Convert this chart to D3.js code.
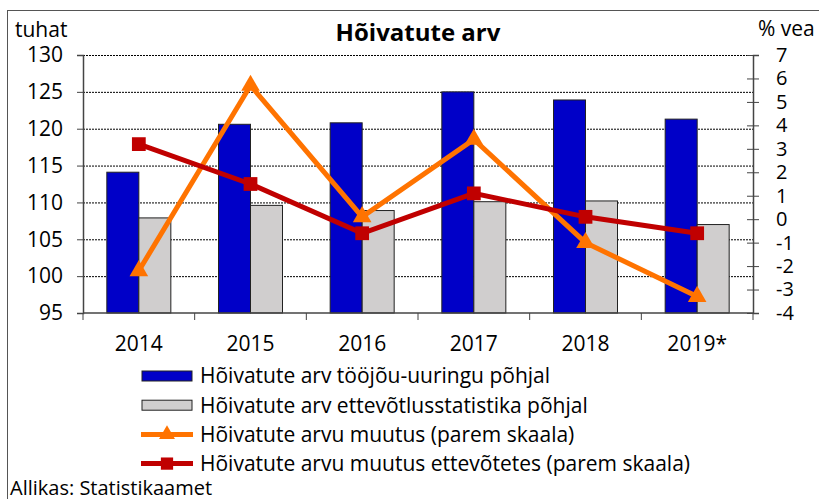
<!DOCTYPE html>
<html>
<head>
<meta charset="utf-8">
<script src="https://cdn.jsdelivr.net/npm/d3@7"></script>
<style>
  body { margin: 0; background: #fff; }
  svg { font-family: "Open Sans", sans-serif; }
</style>
</head>
<body>
<div id="chart"></div>
<script>
const width = 819;
const height = 499;

const years = ["2014", "2015", "2016", "2017", "2018", "2019*"];
const surveyEmployed = [114.1, 120.6, 120.8, 125.0, 123.9, 121.3];
const businessEmployed = [107.9, 109.6, 108.9, 110.1, 110.2, 107.0];
const surveyChange = [-2.2, 5.7, 0.1, 3.4, -1.0, -3.3];
const businessChange = [3.2, 1.5, -0.6, 1.1, 0.1, -0.6];
const leftTicks = [95, 100, 105, 110, 115, 120, 125, 130];
const rightTicks = [-4, -3, -2, -1, 0, 1, 2, 3, 4, 5, 6, 7];
const legendLabels = [
  "Hõivatute arv tööjõu-uuringu põhjal",
  "Hõivatute arv ettevõtlusstatistika põhjal",
  "Hõivatute arvu muutus (parem skaala)",
  "Hõivatute arvu muutus ettevõtetes (parem skaala)",
];

const blue = "#0000c8";
const grey = "#d0cece";
const orange = "#ff7300";
const red = "#c00000";
const fontSize = "21px";

const plot = { left: 83, right: 753, top: 55, bottom: 313 };

const svg = d3
  .select("#chart")
  .append("svg")
  .attr("width", width)
  .attr("height", height);

// outer frame
svg
  .append("rect")
  .attr("x", 7.5)
  .attr("y", 10.5)
  .attr("width", 830)
  .attr("height", 500)
  .attr("fill", "none")
  .attr("stroke", "#555");

const x = d3
  .scaleBand()
  .domain(years)
  .range([plot.left, plot.right]);

const xInner = d3
  .scaleBand()
  .domain(["survey", "business"])
  .range([0, 64]);

const yLeft = d3.scaleLinear().domain([95, 130]).range([plot.bottom, plot.top]);
const yRight = d3.scaleLinear().domain([-4, 7]).range([plot.bottom, plot.top]);

// gridlines
svg
  .append("g")
  .selectAll("line")
  .data(leftTicks.filter((t) => t > 95))
  .enter()
  .append("line")
  .attr("x1", plot.left)
  .attr("x2", plot.right)
  .attr("y1", (d) => yLeft(d) + 0.5)
  .attr("y2", (d) => yLeft(d) + 0.5)
  .attr("stroke", "#000")
  .attr("stroke-width", 1)
  .attr("stroke-dasharray", "2,1");

// bars
const groups = svg
  .append("g")
  .selectAll("g")
  .data(years)
  .enter()
  .append("g")
  .attr("transform", (d) => `translate(${x(d) + x.bandwidth() / 2 - 32},0)`);

groups
  .append("rect")
  .attr("x", xInner("survey"))
  .attr("width", xInner.bandwidth())
  .attr("y", (d, i) => yLeft(surveyEmployed[i]))
  .attr("height", (d, i) => plot.bottom - yLeft(surveyEmployed[i]))
  .attr("fill", blue)
  .attr("stroke", "#222")
  .attr("stroke-width", 1);

groups
  .append("rect")
  .attr("x", xInner("business"))
  .attr("width", xInner.bandwidth())
  .attr("y", (d, i) => yLeft(businessEmployed[i]))
  .attr("height", (d, i) => plot.bottom - yLeft(businessEmployed[i]))
  .attr("fill", grey)
  .attr("stroke", "#222")
  .attr("stroke-width", 1);

// axes
const leftAxis = svg
  .append("g")
  .attr("transform", `translate(${plot.left},0)`)
  .call(d3.axisLeft(yLeft).tickValues(leftTicks).tickSize(6).tickPadding(14));

const rightAxis = svg
  .append("g")
  .attr("transform", `translate(${plot.right},0)`)
  .call(
    d3
      .axisRight(yRight)
      .tickValues(rightTicks)
      .tickSize(6)
      .tickPadding(17)
      .tickFormat((d) => (d < 0 ? "-" + Math.abs(d) : d))
  );
rightAxis
  .selectAll(".tick line")
  .attr("x1", -6);

const bottomAxis = svg
  .append("g")
  .attr("transform", `translate(0,${plot.bottom})`)
  .call(d3.axisBottom(x).tickSize(0).tickPadding(23));

// category separators
svg
  .append("g")
  .selectAll("line")
  .data(d3.range(years.length + 1))
  .enter()
  .append("line")
  .attr("x1", (i) => plot.left + i * x.step())
  .attr("x2", (i) => plot.left + i * x.step())
  .attr("y1", plot.bottom)
  .attr("y2", plot.bottom + 7)
  .attr("stroke", "#444");

[leftAxis, rightAxis, bottomAxis].forEach((ax) => {
  ax.select(".domain").attr("stroke", "#444").attr("stroke-width", 1.5);
  ax.selectAll(".tick line").attr("stroke", "#444");
  ax.selectAll("text")
    .attr("fill", "#000")
    .style("font-size", fontSize)
    .style("font-family", "'Open Sans', sans-serif");
});
rightAxis.selectAll("text").style("font-size", "20px");
bottomAxis.select(".domain").attr("d", `M${plot.left},0H${plot.right}`);

// lines
const cx = (i) => x(years[i]) + x.bandwidth() / 2;

const changeLine = d3
  .line()
  .x((d, i) => cx(i))
  .y((d) => yRight(d));

svg
  .append("path")
  .datum(surveyChange)
  .attr("d", changeLine)
  .attr("fill", "none")
  .attr("stroke", orange)
  .attr("stroke-width", 5);

svg
  .append("path")
  .datum(businessChange)
  .attr("d", changeLine)
  .attr("fill", "none")
  .attr("stroke", red)
  .attr("stroke-width", 5);

const triangle = d3.symbol().type(d3.symbolTriangle).size(150);
const square = d3.symbol().type(d3.symbolSquare).size(190);

svg
  .append("g")
  .selectAll("path")
  .data(surveyChange)
  .enter()
  .append("path")
  .attr("d", triangle)
  .attr("transform", (d, i) => `translate(${cx(i)},${yRight(d)})`)
  .attr("fill", orange);

svg
  .append("g")
  .selectAll("path")
  .data(businessChange)
  .enter()
  .append("path")
  .attr("d", square)
  .attr("transform", (d, i) => `translate(${cx(i)},${yRight(d)})`)
  .attr("fill", red);

// titles
svg
  .append("text")
  .attr("x", 418)
  .attr("y", 41)
  .attr("text-anchor", "middle")
  .style("font-size", "24px")
  .style("font-weight", "bold")
  .text("Hõivatute arv");

svg
  .append("text")
  .attr("x", 15)
  .attr("y", 37)
  .style("font-size", fontSize)
  .text("tuhat");

svg
  .append("text")
  .attr("x", 758)
  .attr("y", 36)
  .style("font-size", fontSize)
  .text("% vea");

// legend
const legend = svg
  .append("g")
  .attr("transform", "translate(141,376)");

const legendRows = legend
  .selectAll("g")
  .data(legendLabels)
  .enter()
  .append("g")
  .attr("transform", (d, i) => `translate(0,${i * 29.2})`);

legendRows
  .filter((d, i) => i < 2)
  .append("rect")
  .attr("x", 1)
  .attr("y", -5)
  .attr("width", 50)
  .attr("height", 10)
  .attr("fill", (d, i) => (i === 0 ? blue : grey))
  .attr("stroke", "#222");

legendRows
  .filter((d, i) => i >= 2)
  .each(function (d, i) {
    const g = d3.select(this);
    const c = i === 0 ? orange : red;
    g.append("line")
      .attr("x1", 0)
      .attr("x2", 52)
      .attr("stroke", c)
      .attr("stroke-width", 5);
    g.append("path")
      .attr("d", i === 0 ? triangle.size(110)() : square.size(150)())
      .attr("transform", "translate(26,0)")
      .attr("fill", c);
  });

legendRows
  .append("text")
  .attr("x", 59)
  .attr("dy", "0.35em")
  .style("font-size", fontSize)
  .text((d) => d);

svg
  .append("text")
  .attr("x", 10)
  .attr("y", 495)
  .style("font-size", "20px")
  .text("Allikas: Statistikaamet");
</script>
</body>
</html>
